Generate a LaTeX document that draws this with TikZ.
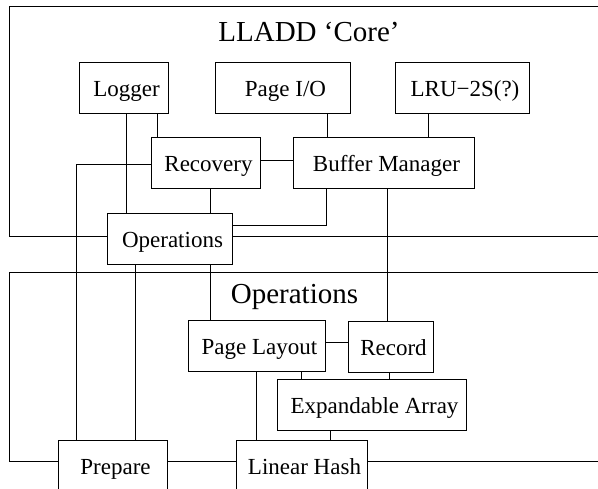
\documentclass[tikz,border=0pt]{standalone}
\usepackage{fontspec}
\setmainfont{Liberation Serif}
\usepackage{tikz}
\usetikzlibrary{%
    positioning,
    calc
}
\begin{document}
\begin{tikzpicture}[x=1pt, y=-1pt, line width=1pt,
    box/.style={draw, minimum height=51pt, inner sep=0pt, text height=17pt, text depth=0pt, font=\fontsize{23}{27}\selectfont, execute at begin node=\hspace*{6pt}},
    title/.style={anchor=base, inner sep=0pt, font=\fontsize{29}{34}\selectfont}]
      \useasboundingbox (0,0) rectangle (598,489);
      \clip (0,0) rectangle (598,489);

      \node[title] (core_title) at (309,42) {LLADD ‘Core’};
      \node[box, minimum width=89pt] (logger) at (123.5,88) {Logger};
      \node[box, minimum width=135pt] (page_io) at (282.5,88) {Page I/O};
      \node[box, minimum width=134pt] (lru) at (462,88.5) {LRU−2S(?)};
      \node[box, minimum width=109pt] (recovery) at (205.5,163.5) {Recovery};
      \node[box, minimum width=181pt] (buffer) at (383.5,163.5) {Buffer Manager};
      \node[box, minimum width=125pt] (ops_core) at (169.5,239.5) {Operations};

      \node[title] (ops_title) at (294.5,304) {Operations};
      \node[box, minimum width=137pt] (page_layout) at (256.5,346.5) {Page Layout};
      \node[box, minimum width=85pt] (record) at (390.5,347.5) {Record};
      \node[box, minimum width=189pt] (exp_array) at (371.5,405.5) {Expandable Array};
      \node[box, minimum width=109pt] (prepare) at (112.5,466.5) {Prepare};
      \node[box, minimum width=131pt] (lin_hash) at (301.5,466.5) {Linear Hash};

      \draw (ops_core.west |- 0,237) -| (9,7) -| (640,237) -- (ops_core.east |- 0,237);
      \draw (prepare.west |- 0,462) -| (9,273) -- (640,273);
      \draw (lin_hash.east |- 0,462) -- (640,462);

      \draw (logger.south -| 126,0) -- (ops_core.north -| 126,0);
      \draw (logger.south -| 157,0) -- (recovery.north -| 157,0);
      \draw (recovery.east |- 0,161) -- (buffer.west |- 0,161);
      \draw (recovery.west |- 0,165) -| (prepare.north -| 76,0);
      \draw (recovery.south -| 210,0) -- (ops_core.north -| 210,0);

      \draw (page_io.south -| 327,0) -- (buffer.north -| 327,0);
      \draw (lru.south -| 428,0) -- (buffer.north -| 428,0);
      \draw (buffer.south -| 326,0) |- (ops_core.east |- 0,226);
      \draw (buffer.south -| 387,0) -- (record.north -| 387,0);

      \draw (ops_core.south -| 135,0) -- (prepare.north -| 135,0);
      \draw (ops_core.south -| 210,0) -- (page_layout.north -| 210,0);

      \draw (page_layout.east |- 0,343) -- (record.west |- 0,343);
      \draw (page_layout.south -| 256,0) -- (lin_hash.north -| 256,0);
      \draw (page_layout.south -| 301,0) -- (exp_array.north -| 301,0);
      \draw (record.south -| 389,0) -- (exp_array.north -| 389,0);
      \draw (exp_array.south -| 330,0) -- (lin_hash.north -| 330,0);
      \draw (prepare.east |- 0,462) -- (lin_hash.west |- 0,462);
    \end{tikzpicture}
\end{document}
